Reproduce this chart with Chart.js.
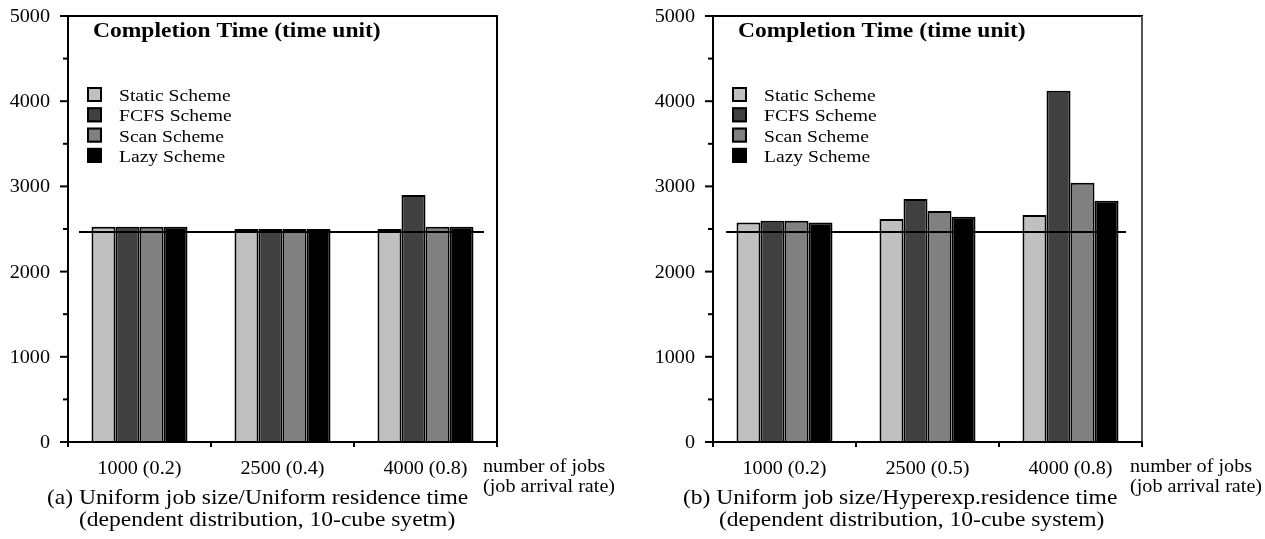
<!DOCTYPE html>
<html>
<head>
<meta charset="utf-8">
<script src="https://cdn.jsdelivr.net/npm/chart.js@4/dist/chart.umd.min.js"></script>
<style>
  html, body { margin: 0; padding: 0; background: #fff; }
  #wrap { position: relative; width: 1265px; height: 539px; overflow: hidden; }
  canvas { position: absolute; top: 0; }
</style>
</head>
<body>
<div id="wrap">
  <canvas id="chartA" width="632" height="539" style="left:0px"></canvas>
  <canvas id="chartB" width="633" height="539" style="left:632px"></canvas>
</div>
<script>
// ---------------- data ----------------
const seriesNames = ['Static Scheme', 'FCFS Scheme', 'Scan Scheme', 'Lazy Scheme'];
const seriesColors = ['#c0c0c0', '#404040', '#808080', '#000000'];

const categoriesA = ['1000 (0.2)', '2500 (0.4)', '4000 (0.8)'];
const staticA = [2525, 2500, 2500];
const fcfsA   = [2525, 2500, 2900];
const scanA   = [2525, 2500, 2525];
const lazyA   = [2525, 2500, 2525];
const referenceA = 2465;

const categoriesB = ['1000 (0.2)', '2500 (0.5)', '4000 (0.8)'];
const staticB = [2577, 2616, 2663];
const fcfsB   = [2596, 2851, 4123];
const scanB   = [2596, 2710, 3042];
const lazyB   = [2577, 2643, 2831];
const referenceB = 2465;

const yTickValues = [0, 1000, 2000, 3000, 4000, 5000];
const yTickLabels = ['0', '1000', '2000', '3000', '4000', '5000'];
const yMinorValues = [500, 1500, 2500, 3500, 4500];

const chartTitle = 'Completion Time (time unit)';
const xAxisTitle = ['number of jobs', '(job arrival rate)'];
const captionA = ['(a) Uniform job size/Uniform residence time', '(dependent distribution, 10-cube syetm)'];
const captionB = ['(b) Uniform job size/Hyperexp.residence time', '(dependent distribution, 10-cube system)'];

// ---------------- drawing helpers ----------------
const SX = 1.12;
const SERIF = '"Liberation Serif", "Times New Roman", serif';
function txt(ctx, s, x, y, font, align) {
  ctx.save();
  ctx.font = font;
  const w = ctx.measureText(s).width * SX;
  let x0 = x;
  if (align === 'right') x0 = x - w;
  else if (align === 'center') x0 = x - w / 2;
  ctx.translate(x0, y);
  ctx.scale(SX, 1);
  ctx.textAlign = 'left';
  ctx.textBaseline = 'alphabetic';
  ctx.fillStyle = '#000';
  ctx.fillText(s, 0, 0);
  ctx.restore();
}
function line(ctx, x1, y1, x2, y2, w, c) {
  ctx.save();
  ctx.beginPath();
  ctx.moveTo(x1, y1); ctx.lineTo(x2, y2);
  ctx.lineWidth = w; ctx.strokeStyle = c || '#000';
  ctx.stroke();
  ctx.restore();
}

const decorPlugin = {
  id: 'decor',
  afterDatasetsDraw(chart) {
    const o = chart.options.plugins.decor;
    const ctx = chart.ctx;
    const a = chart.chartArea;
    const ys = chart.scales.y;
    const ry = ys.getPixelForValue(o.reference);
    line(ctx, a.left + o.refStart, ry, a.right - o.refEnd, ry, 2, '#000');
  },
  afterDraw(chart) {
    const o = chart.options.plugins.decor;
    const ctx = chart.ctx;
    const a = chart.chartArea;
    const ys = chart.scales.y;
    const xs = chart.scales.x;
    // frame
    line(ctx, a.left - 8, a.top, a.right + 1, a.top, 2, '#000');
    line(ctx, a.right, a.top, a.right, a.bottom, 2, o.rightBorder);
    line(ctx, a.left, a.top - 1, a.left, a.bottom + 1, 2, '#000');
    line(ctx, a.left - 1, a.bottom, a.right + 1, a.bottom, 2, '#000');
    // y ticks + labels
    yTickValues.forEach((v, i) => {
      const y = ys.getPixelForValue(v);
      line(ctx, a.left - 8, y, a.left, y, 2, '#000');
      txt(ctx, yTickLabels[i], a.left - 18, y + 6, '18px ' + SERIF, 'right');
    });
    yMinorValues.forEach(v => {
      const y = ys.getPixelForValue(v);
      line(ctx, a.left - 5, y, a.left, y, 2, '#000');
    });
    // x ticks at category boundaries + labels
    const labels = chart.data.labels;
    const n = labels.length;
    const slot = (a.right - a.left) / n;
    for (let i = 0; i <= n; i++) {
      const x = a.left + i * slot;
      line(ctx, x, a.bottom, x, a.bottom + 5, 2, '#000');
    }
    labels.forEach((lab, i) => {
      txt(ctx, lab, xs.getPixelForValue(i), a.bottom + 32, '18px ' + SERIF, 'center');
    });
    // x axis title
    txt(ctx, xAxisTitle[0], a.right + o.xTitleDx, a.bottom + 30, '18px ' + SERIF, 'left');
    txt(ctx, xAxisTitle[1], a.right + o.xTitleDx, a.bottom + 50, '18px ' + SERIF, 'left');
    // chart title
    txt(ctx, chartTitle, a.left + 25, a.top + 21, 'bold 21px ' + SERIF, 'left');
    // legend
    chart.data.datasets.forEach((ds, i) => {
      const by = a.top + 71 + i * 20.3;
      ctx.save();
      ctx.fillStyle = ds.backgroundColor;
      ctx.fillRect(a.left + 19, by, 15, 15);
      ctx.lineWidth = 2;
      ctx.strokeStyle = '#000';
      ctx.strokeRect(a.left + 20, by + 1, 13, 13);
      ctx.restore();
      txt(ctx, ds.label, a.left + 51, a.top + 85 + i * 20.3, '17.5px ' + SERIF, 'left');
    });
    // caption
    txt(ctx, o.caption[0], a.left + o.cap1Dx, a.bottom + 62, '21px ' + SERIF, 'left');
    txt(ctx, o.caption[1], a.left + o.cap2Dx, a.bottom + 84, '21px ' + SERIF, 'left');
  }
};

function makeChart(id, cats, s, reference, padding, extra) {
  const datasets = seriesNames.map((name, i) => ({
    label: name,
    data: s[i],
    backgroundColor: seriesColors[i],
    borderColor: '#000',
    borderWidth: 2,
    categoryPercentage: 96 / 143,
    barPercentage: 1.0
  }));
  return new Chart(document.getElementById(id), {
    type: 'bar',
    data: { labels: cats, datasets },
    plugins: [decorPlugin],
    options: {
      responsive: false,
      animation: false,
      devicePixelRatio: 1,
      layout: { padding },
      scales: {
        x: { display: false },
        y: { display: false, min: 0, max: 5000 }
      },
      plugins: {
        legend: { display: false },
        tooltip: { enabled: false },
        decor: Object.assign({ reference }, extra)
      }
    }
  });
}

makeChart('chartA', categoriesA, [staticA, fcfsA, scanA, lazyA], referenceA,
  { left: 68, top: 16, right: 632 - 497, bottom: 539 - 442 },
  { refStart: 11, refEnd: 13, rightBorder: '#000', xTitleDx: -14, caption: captionA, cap1Dx: -21, cap2Dx: 11 });

makeChart('chartB', categoriesB, [staticB, fcfsB, scanB, lazyB], referenceB,
  { left: 713 - 632, top: 16, right: 1265 - 1142, bottom: 539 - 442 },
  { refStart: 13, refEnd: 16, rightBorder: '#555', xTitleDx: -12, caption: captionB, cap1Dx: -30, cap2Dx: 6 });
</script>
</body>
</html>
